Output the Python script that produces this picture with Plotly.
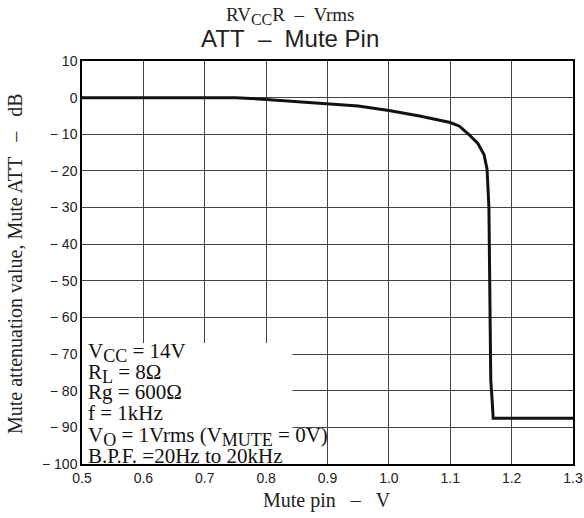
import plotly.graph_objects as go

mute_pin_v = [0.5, 0.75, 0.8, 0.9, 0.95, 1.0, 1.05, 1.1, 1.115, 1.13, 1.145, 1.155, 1.16, 1.163, 1.166, 1.168, 1.17, 1.3]
att_db = [0, 0, -0.5, -1.8, -2.3, -3.5, -5.0, -6.8, -7.8, -10.0, -12.5, -15.5, -19.5, -30.0, -77.0, -82.0, -87.5, -87.5]

x_ticks = [0.5, 0.6, 0.7, 0.8, 0.9, 1.0, 1.1, 1.2, 1.3]
x_ticklabels = ["0.5", "0.6", "0.7", "0.8", "0.9", "1.0", "1.1", "1.2", "1.3"]
y_ticks = [10, 0, -10, -20, -30, -40, -50, -60, -70, -80, -90, -100]
y_ticklabels = ["10", "0", "− 10", "− 20", "− 30", "− 40", "− 50", "− 60", "− 70", "− 80", "− 90", "− 100"]


def sub(t, size):
    return f"<sub><span style='font-size:{size}px'>{t}</span></sub>"


cond_lines = [
    "V" + sub("CC", 18) + " = 14V",
    "R" + sub("L", 18) + " = 8Ω",
    "Rg = 600Ω",
    "f = 1kHz",
    "V" + sub("O", 18) + " = 1Vrms (V" + sub("MUTE", 18) + " = 0V)",
    "B.P.F. =20Hz to 20kHz",
]
cond_y_px = [352, 373, 392, 413, 436, 456]

serif = "Liberation Serif, Times New Roman, serif"
sans = "Liberation Sans, Arial, sans-serif"

L, R, T, B = 82, 573, 61, 464
W, H = 584, 518

fig = go.Figure()
fig.add_trace(go.Scatter(x=mute_pin_v, y=att_db, mode="lines",
                         line=dict(color="#111111", width=3), showlegend=False))

fig.update_layout(
    width=W, height=H,
    margin=dict(l=L, r=W - R, t=T, b=H - B),
    paper_bgcolor="white", plot_bgcolor="white",
    xaxis=dict(range=[0.5, 1.3], tickvals=x_ticks, ticktext=x_ticklabels,
               showgrid=True, gridcolor="#444444", gridwidth=1,
               showline=True, linecolor="black", linewidth=1.5, mirror=True,
               ticks="", zeroline=False, automargin=False,
               tickfont=dict(family=sans, size=14, color="#222222")),
    yaxis=dict(range=[-100, 10], tickvals=y_ticks, ticktext=y_ticklabels,
               showgrid=True, gridcolor="#444444", gridwidth=1,
               showline=True, linecolor="black", linewidth=1.5, mirror=True,
               ticks="", zeroline=False, automargin=False,
               tickfont=dict(family=sans, size=14, color="#222222")),
)

fig.add_shape(type="rect", xref="x", yref="y", x0=0.5, x1=0.843, y0=-100, y1=-67,
              fillcolor="white", line=dict(width=0), layer="between")


def px(xp):
    return (xp - L) / (R - L)


def py(yp):
    return 1 - (yp - T) / (B - T)


for txt, ypx in zip(cond_lines, cond_y_px):
    fig.add_annotation(text=txt, xref="paper", yref="paper",
                       x=px(86), y=py(ypx),
                       xanchor="left", yanchor="middle", showarrow=False,
                       font=dict(family=serif, size=21, color="#111111"))

fig.add_annotation(text="RV" + sub("CC", 16) + "R&nbsp;&nbsp;–&nbsp;&nbsp;Vrms", xref="paper", yref="paper",
                   x=px(290), y=py(16), xanchor="center", yanchor="middle",
                   showarrow=False, font=dict(family=serif, size=19, color="#222222"))
fig.add_annotation(text="ATT&nbsp;&nbsp;–&nbsp;&nbsp;Mute Pin", xref="paper", yref="paper",
                   x=px(290), y=py(38), xanchor="center", yanchor="middle",
                   showarrow=False, font=dict(family=sans, size=24, color="#222222"))

fig.add_annotation(text="Mute pin&nbsp;&nbsp;&nbsp;–&nbsp;&nbsp;&nbsp;V", xref="paper", yref="paper",
                   x=px(327), y=py(500), xanchor="center", yanchor="middle",
                   showarrow=False, font=dict(family=serif, size=20, color="#222222"))
fig.add_annotation(text="Mute attenuation value, Mute ATT&nbsp;&nbsp;&nbsp;–&nbsp;&nbsp;&nbsp;dB",
                   xref="paper", yref="paper",
                   x=px(15), y=py(264), xanchor="center", yanchor="middle", textangle=-90,
                   showarrow=False, font=dict(family=serif, size=20, color="#222222"))

fig.write_html("out.html", config={"displayModeBar": False},
               post_script="document.body.style.margin='0';")
